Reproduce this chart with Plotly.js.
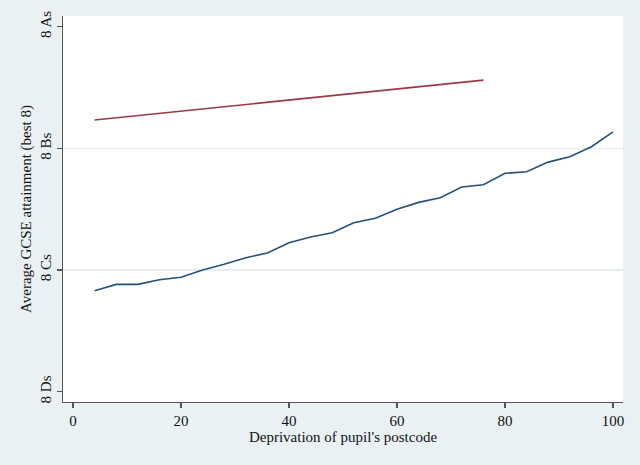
<!DOCTYPE html>
<html>
<head>
<meta charset="utf-8">
<script src="https://cdn.plot.ly/plotly-3.0.1.min.js"></script>
<style>html,body{margin:0;padding:0;background:#eaf1f3;}#chart{width:640px;height:465px;}</style>
</head>
<body>
<div id="chart"></div>
<script>
// Deprivation percentile
const deprivationX = [4,8,12,16,20,24,28,32,36,40,44,48,52,56,60,64,68,72,76,80,84,88,92,96,100];
// Average GCSE attainment (0 = 8 Ds, 1 = 8 Cs, 2 = 8 Bs, 3 = 8 As)
const attainment = [0.830,0.882,0.882,0.920,0.940,1.000,1.047,1.101,1.140,1.224,1.271,1.306,1.389,1.425,1.499,1.556,1.594,1.682,1.701,1.795,1.808,1.887,1.931,2.013,2.136];
const refX = [4,40,76];
const refY = [2.233,2.397,2.561];
const yTickVals = [0,1,2,3];
const yTickText = ['8 Ds','8 Cs','8 Bs','8 As'];
const gridVals = [1,2];
const xTickVals = [0,20,40,60,80,100];

const font = {family:'"Liberation Serif", "Times New Roman", serif', size:15, color:'#111'};

const traces = [
  {x:deprivationX, y:attainment, type:'scatter', mode:'lines', line:{color:'#24517c', width:1.6}, hoverinfo:'skip'},
  {x:refX, y:refY, type:'scatter', mode:'lines', line:{color:'#9a3a40', width:1.6}, hoverinfo:'skip'}
];

const layout = {
  width:640, height:465,
  margin:{l:63, r:17, t:16, b:63},
  paper_bgcolor:'#eaf1f3',
  plot_bgcolor:'#ffffff',
  showlegend:false,
  font:font,
  xaxis:{
    range:[-1.85,101.85], tickvals:xTickVals, showgrid:false, zeroline:false,
    showline:true, linecolor:'#555', linewidth:1.2,
    ticks:'outside', ticklen:5, tickcolor:'#555', tickwidth:1.2,
    tickfont:font,
    title:{text:"Deprivation of pupil's postcode", font:font, standoff:0}
  },
  yaxis:{
    range:[-0.085,3.088], tickvals:yTickVals, ticktext:yTickText, tickangle:-90,
    showgrid:false, zeroline:false,
    showline:true, linecolor:'#555', linewidth:1.2,
    ticks:'outside', ticklen:5, tickcolor:'#555', tickwidth:1.2,
    tickfont:font,
    title:{text:'Average GCSE attainment (best 8)', font:font, standoff:2}
  },
  yaxis2:{
    range:[-0.085,3.088], overlaying:'y', tickvals:gridVals, showgrid:true,
    gridcolor:'#e6eef1', gridwidth:1.2, showticklabels:false, ticks:'', zeroline:false, showline:false
  }
};

traces.push({x:[null], y:[null], yaxis:'y2', type:'scatter', mode:'lines', hoverinfo:'skip'});

Plotly.newPlot('chart', traces, layout, {staticPlot:true, displayModeBar:false});
</script>
</body>
</html>
